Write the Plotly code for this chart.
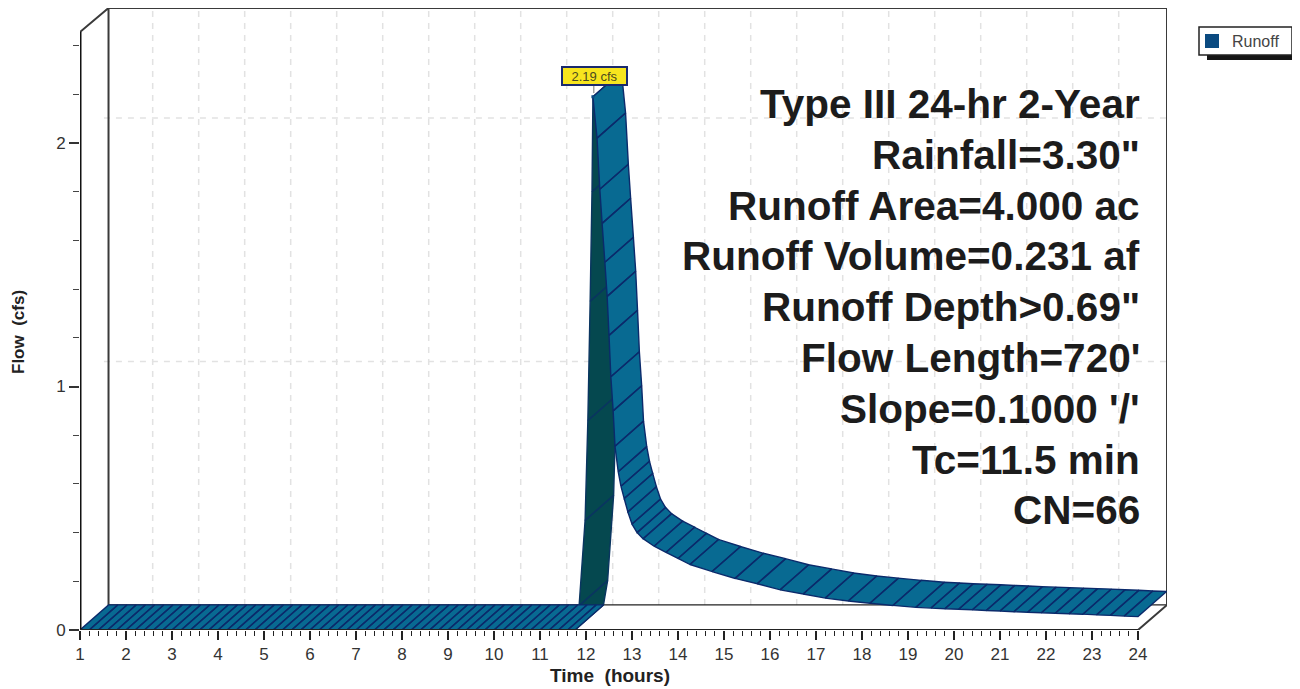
import plotly.graph_objects as go

# ---------- data ----------
time_base = [1.0, 1.2, 1.4, 1.6, 1.8, 2.0, 2.2, 2.4, 2.6, 2.8, 3.0, 3.2, 3.4, 3.6, 3.8, 4.0, 4.2, 4.4,
             4.6, 4.8, 5.0, 5.2, 5.4, 5.6, 5.8, 6.0, 6.2, 6.4, 6.6, 6.8, 7.0, 7.2, 7.4, 7.6, 7.8, 8.0,
             8.2, 8.4, 8.6, 8.8, 9.0, 9.2, 9.4, 9.6, 9.8, 10.0, 10.2, 10.4, 10.6, 10.8, 11.0, 11.2,
             11.4, 11.6, 11.76]
flow_base = [0.0, 0.0, 0.0, 0.0, 0.0, 0.0, 0.0, 0.0, 0.0, 0.0, 0.0, 0.0, 0.0, 0.0, 0.0, 0.0, 0.0, 0.0,
             0.0, 0.0, 0.0, 0.0, 0.0, 0.0, 0.0, 0.0, 0.0, 0.0, 0.0, 0.0, 0.0, 0.0, 0.0, 0.0, 0.0, 0.0,
             0.0, 0.0, 0.0, 0.0, 0.0, 0.0, 0.0, 0.0, 0.0, 0.0, 0.0, 0.0, 0.0, 0.0, 0.0, 0.0,
             0.0, 0.0, 0.0]
time_rise = [11.76, 11.85, 11.98, 12.04, 12.09, 12.13, 12.15]
flow_rise = [0.0, 0.10, 0.45, 0.86, 1.35, 1.80, 2.19]
time_fall = [12.15, 12.24, 12.30, 12.35, 12.41, 12.46, 12.50, 12.54, 12.59, 12.63, 12.70, 12.76, 12.83,
             12.91, 13.00, 13.11, 13.24, 13.48, 13.74, 14.00, 14.26, 14.74, 15.24, 15.72, 16.22, 16.72,
             17.20, 17.70, 18.17, 18.67, 19.17, 19.50, 19.80, 20.10, 20.40, 20.70, 21.00, 21.30, 21.60,
             21.90, 22.20, 22.50, 22.80, 23.10, 23.40, 23.70, 24.00]
flow_fall = [2.19, 2.02, 1.81, 1.67, 1.51, 1.37, 1.21, 1.04, 0.90, 0.755, 0.65, 0.59, 0.54,
             0.485, 0.435, 0.40, 0.375, 0.344, 0.319, 0.294, 0.269, 0.24, 0.212, 0.19, 0.165, 0.148,
             0.131, 0.119, 0.11, 0.101, 0.093, 0.09, 0.087, 0.085, 0.083, 0.08, 0.078, 0.075, 0.073,
             0.071, 0.069, 0.067, 0.065, 0.062, 0.06, 0.057, 0.055]

hour_ticks = [1, 2, 3, 4, 5, 6, 7, 8, 9, 10, 11, 12, 13, 14, 15, 16, 17, 18, 19, 20, 21, 22, 23, 24]
flow_ticks = [0, 1, 2]
flow_minor = [0.2, 0.4, 0.6, 0.8, 1.2, 1.4, 1.6, 1.8, 2.2, 2.4]
grid_hours = hour_ticks[1:-1]
info_lines = ['Type III 24-hr 2-Year', 'Rainfall=3.30"', 'Runoff Area=4.000 ac', 'Runoff Volume=0.231 af',
              "Runoff Depth>0.69\"", "Flow Length=720'", "Slope=0.1000 '/'", 'Tc=11.5 min', 'CN=66']
peak_label = '2.19 cfs'
pointer_time = [12.17, 12.41, 12.17, 12.17]
pointer_flow = [2.242, 2.242, 2.205, 2.242]

# ---------- geometry of the pseudo-3D box, in data units ----------
DX, DY = 0.62, 0.103
X0, X1 = 1.0, 24.0
YTOP = 2.456
XMAX, YMAX = 24.63, 2.5544

TEAL, DARK, NAVY = '#086a92', '#05484f', '#0b2a6b'
hours_minor = [round(1 + 0.2 * i, 1) for i in range(116) if i % 5]


def ribbon(ts, vs):
    xs, ys = [], []
    for i in range(len(ts) - 1):
        xs += [ts[i], ts[i + 1], ts[i + 1] + DX, ts[i] + DX, ts[i], None]
        ys += [vs[i], vs[i + 1], vs[i + 1] + DY, vs[i] + DY, vs[i], None]
    return xs, ys


def add_line(fig, xs, ys, color, width, dash='solid'):
    fig.add_trace(go.Scatter(x=xs, y=ys, mode='lines', line=dict(color=color, width=width, dash=dash),
                             hoverinfo='skip', showlegend=False))


fig = go.Figure()

# dashed back-wall grid
gx, gy = [], []
for h in grid_hours:
    gx += [h + DX - 0.04, h + DX - 0.04, None]
    gy += [DY, YMAX, None]
for v in flow_ticks[1:]:
    gx += [X0 + DX - 0.1, XMAX, None]
    gy += [v + DY, v + DY, None]
add_line(fig, gx, gy, '#e2e2e2', 1.5, '6px,6px')

# back frame
add_line(fig, [X0 + DX, X1 + DX], [DY, DY], '#222222', 1.2)
add_line(fig, [X0, X0 + DX, X0 + DX, None, X0 + DX, XMAX, XMAX, X1, X1],
         [YTOP, YMAX, DY, None, YMAX, YMAX, DY, 0, 0], '#3a3a3a', 2)

# runoff ribbon
for ts, vs, col, edge in ((time_rise, flow_rise, DARK, '#0a3560'),
                          (time_base, flow_base, TEAL, NAVY),
                          (time_fall, flow_fall, TEAL, NAVY)):
    rx, ry = ribbon(ts, vs)
    fig.add_trace(go.Scatter(x=rx, y=ry, mode='lines', fill='toself', fillcolor=col,
                             line=dict(color=edge, width=1.4), hoverinfo='skip', showlegend=False))

# white callout pointer below the peak label
fig.add_trace(go.Scatter(x=pointer_time, y=pointer_flow, mode='lines', fill='toself', fillcolor='white',
                         line=dict(color='white', width=0.5), hoverinfo='skip', showlegend=False))
add_line(fig, pointer_time[2:], pointer_flow[2:], '#777777', 1)

# front axes
add_line(fig, [X0, X0], [0, YTOP], '#111111', 3)
add_line(fig, [X0, X1], [0, 0], '#222222', 2)

# legend entry
fig.add_trace(go.Scatter(x=[time_fall[0]], y=[flow_fall[0]], mode='markers', name='Runoff',
                         marker=dict(symbol='square', size=1, color='#0a4a80',
                                     line=dict(color='#0a4a80', width=2)), hoverinfo='skip'))

PW, PH = 1087.0, 622.0
Y0PX = 630
annotations = [dict(x=12.19, y=2.19, xref='x', yref='y', text=peak_label, showarrow=False, yshift=21,
                    width=63, height=16, align='center',
                    font=dict(family='Liberation Sans', size=13, color='#4a4a20'),
                    bgcolor='#f7e51e', bordercolor='#1a2a6e', borderwidth=2, borderpad=0),
               dict(x=12.53, y=0, xref='x', yref='y', yshift=-45, text='Time\u00a0\u00a0(hours)', showarrow=False,
                    font=dict(family='Liberation Sans', size=19, color='#222222', weight='bold')),
               dict(x=(18 - 80) / PW, y=(Y0PX - 332) / PH, xref='paper', yref='paper', xanchor='center', yanchor='middle',
                    text='Flow\u00a0\u00a0(cfs)', showarrow=False, textangle=-90,
                    font=dict(family='Liberation Sans', size=17, color='#222222', weight='bold'))]
for i, line in enumerate(info_lines):
    annotations.append(dict(x=(1142 - 80) / PW, y=(Y0PX - (104 + 50.8 * i)) / PH, xref='paper', yref='paper',
                            xanchor='right', yanchor='middle', text=line, showarrow=False,
                            font=dict(family='Liberation Sans', size=40.5, color='#1c1c1c', weight='bold')))

fig.update_layout(
    width=1292, height=681, autosize=False,
    margin=dict(l=72, r=133, t=0, b=59),
    paper_bgcolor='white', plot_bgcolor='white',
    annotations=annotations,
    shapes=[dict(type='rect', xref='paper', yref='paper', layer='below',
                 x0=(1207 - 80) / PW, x1=(1297 - 80) / PW, y0=(Y0PX - 60) / PH, y1=(Y0PX - 33) / PH,
                 fillcolor='#151515', line=dict(width=0)),
            dict(type='rect', xref='paper', yref='paper', layer='below',
                 x0=(1199 - 80) / PW, x1=(1292 - 80) / PW, y0=(Y0PX - 55) / PH, y1=(Y0PX - 27) / PH,
                 fillcolor='white', line=dict(width=1.5, color='#222222'))],
    xaxis=dict(range=[X0, XMAX], showgrid=False, zeroline=False, showline=False,
               tickmode='array', tickvals=hour_ticks, ticks='outside', ticklen=9, tickwidth=1.5, tickcolor='#222222',
               tickfont=dict(family='Liberation Sans', size=17, color='#333333'),
               minor=dict(tickmode='array', tickvals=hours_minor, ticks='outside', ticklen=5, tickwidth=1.2,
                          tickcolor='#222222', showgrid=False)),
    yaxis=dict(range=[0, YMAX], showgrid=False, zeroline=False, showline=False,
               tickmode='array', tickvals=flow_ticks, ticks='outside', ticklen=10, tickwidth=1.5, tickcolor='#333333',
               tickfont=dict(family='Liberation Sans', size=17, color='#333333'),
               minor=dict(tickmode='array', tickvals=flow_minor, ticks='outside', ticklen=6, tickwidth=1.2,
                          tickcolor='#444444', showgrid=False)),
    legend=dict(x=(1192 - 80) / PW, y=(Y0PX - 41) / PH, xanchor='left', yanchor='middle',
                bgcolor='rgba(0,0,0,0)', borderwidth=0, itemsizing='constant',
                itemwidth=30, font=dict(family='Liberation Sans', size=16, color='#444444')),
)

fig.write_html('out.html')
